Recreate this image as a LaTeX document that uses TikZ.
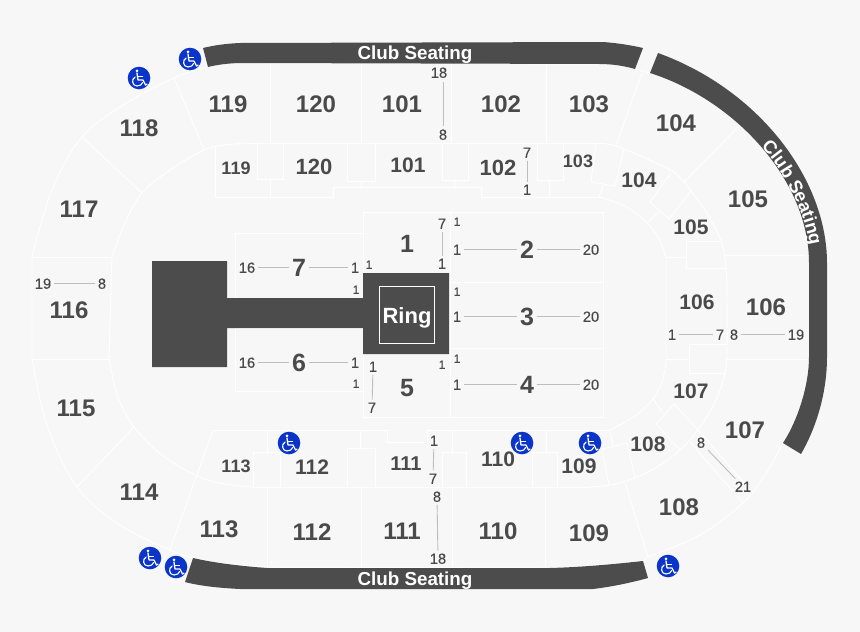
\documentclass[tikz,border=0pt]{standalone}
\usepackage{fontspec}
\setmainfont{Liberation Sans}
\newfontfamily\medfont[FakeBold=0.35]{Liberation Sans}
\usetikzlibrary{decorations.text}
\definecolor{bgc}{HTML}{F7F7F7}
\definecolor{ink}{HTML}{4A4A4A}
\definecolor{slab}{HTML}{4C4C4C}
\definecolor{conn}{HTML}{BDBDBD}
\definecolor{wcblue}{HTML}{0A35C8}
\tikzset{
  wl/.style={draw=white,line width=0.9pt,line join=miter},
  dark/.style={fill=slab,draw=none},
  lab/.style={text=ink,inner sep=2.8pt,yshift=-0.7pt,font=\fontsize{#1}{#1}\selectfont\bfseries},
  lab/.default=24,
  num/.style={text=ink,inner sep=2.8pt,yshift=-0.7pt,font=\fontsize{#1}{#1}\medfont},
  num/.default=14.7,
  clubtxt/.style={text=white,inner sep=0pt,font=\fontsize{18.8}{18.8}\selectfont\bfseries},
  lnk/.style={draw=conn,line width=0.9pt},
  wheel/.pic={
    \fill[wcblue] (0,0) circle (11.3);
    \fill[white] (-2,-7.2) circle (1.5);
    \draw[white,line width=1.3pt,line cap=round,line join=round] (-2,-5) -- (-1,2) -- (4,2) -- (6.5,7) -- (8,6.2);
    \draw[white,line width=1.1pt,line cap=round] (-1.6,-1.8) -- (3.5,-1.8);
    \draw[white,line width=1.1pt,line cap=round] (-3.8,-1) .. controls (-8,1) and (-7,8) .. (-2,8) .. controls (1,8) and (3,6.5) .. (3.6,4.5);
  }
}
\begin{document}
\begin{tikzpicture}[x=1pt,y=-1pt]
\useasboundingbox (0,0) rectangle (860,632);
\fill[bgc] (0,0) rectangle (860,632);
% outlines
\draw[wl] plot[smooth,tension=0.6] coordinates {(210,66)(174,78)(125,104)(82,137)(52,190)(32,257)} -- (32,359)
  plot[smooth,tension=0.6] coordinates {(32,359)(47,425)(77,487)(120,525)(170,550)(193,558)};
\draw[wl] plot[smooth,tension=0.6] coordinates {(250,143)(225,145)(204,150)(170,170)(142,193)(124,225)(112,257)} -- (109,359)
  plot[smooth,tension=0.6] coordinates {(109,359)(118,397)(134,427)(162,455)(197,476)(225,484)(253,487)};
\draw[wl] (250,143) -- (597,143);
\draw[wl] (253,487) -- (590,487);
\draw[wl] plot[smooth,tension=0.6] coordinates {(597,143)(616,146)(645,158)(672,171)(684,182)(691,191)(708,215)(721,241)(726,268)(727,300)(727,345)(725,373)(715,402)(698,430)(680,450)(660,465)(635,478)(610,485)(590,487)};
\draw[wl] plot[smooth,tension=0.6] coordinates {(783,443)(765,475)(743,503)(700,535)(648,557)};
\draw[wl] (243,63) -- (600,64);
\draw[wl] (193,558) .. controls (215,563) and (240,566) .. (267,567) -- (550,568) .. controls (585,567) and (615,564) .. (643,561) -- (648,557);
\draw[wl] (635,69) -- (650,73);
% upper dividers
\draw[wl] (174,78) -- (204,150);
\draw[wl] (270,63) -- (270,143);
\draw[wl] (361,63) -- (361,143);
\draw[wl] (451,63) -- (451,143);
\draw[wl] (546,63) -- (546,143);
\draw[wl] (642,73) -- (616,145);
\draw[wl] (738,127) -- (684,182);
\draw[wl] (726,255) -- (805,255);
\draw[wl] (727,359) -- (807,359);
\draw[wl] (690,442) -- (743,503);
\draw[wl] (698,430) -- (752,492);
\draw[wl] (625,483) -- (648,557);
\draw[wl] (213,430) -- (170,550);
\draw[wl] (82,137) -- (142,193);
\draw[wl] (32,257) -- (112,257);
\draw[wl] (32,359) -- (109,359);
\draw[wl] (134,427) -- (77,487);
\draw[wl] (267,487) -- (267,567);
\draw[wl] (361,487) -- (361,567);
\draw[wl] (452,487) -- (452,567);
\draw[wl] (545,487) -- (545,567);
% lower ring top
\draw[wl] (215,147) -- (215,197) -- (333,197) -- (333,187) -- (481,187) -- (481,197) -- (599,197);
\draw[wl] plot[smooth,tension=0.6] coordinates {(599,197)(625,206)(647,223)(659,239)(666,257)} -- (666,363);
\draw[wl] plot[smooth,tension=0.6] coordinates {(666,363)(662,382)(653,399)(635,416)(610,430)};
\draw[wl] (610,430) -- (427,430) -- (427,442) -- (387,442) -- (387,430) -- (213,430);
\draw[wl] (257,143) -- (257,179) -- (283,179) -- (283,143);
\draw[wl] (347,143) -- (347,181) -- (375,181) -- (375,143);
\draw[wl] (442,143) -- (442,180) -- (468,180) -- (468,143);
\draw[wl] (537,143) -- (537,180) -- (563,180) -- (563,143);
\draw[wl] (270,179) -- (270,197);
\draw[wl] (361,181) -- (361,187);
\draw[wl] (454,180) -- (454,187);
\draw[wl] (549,180) -- (549,197);
\draw[wl] (596,144) -- (591,182) -- (615,186) -- (624,149);
\draw[wl] (603,185) -- (599,197);
\draw[wl] (671,173) -- (650,202) -- (669,219) -- (691,191);
\draw[wl] (659,212) -- (647,223);
\draw[wl] (686,241) -- (686,268) -- (726,268);
\draw[wl] (686,241) -- (720,241);
\draw[wl] (666,257) -- (686,257);
\draw[wl] (727,344) -- (689,344) -- (689,373) -- (725,373);
\draw[wl] (666,359) -- (689,359);
\draw[wl] (698,430) -- (674,404) -- (656,424) -- (680,450);
\draw[wl] (653,399) -- (663,413);
\draw[wl] (635,478) -- (627,443) -- (602,449) -- (609,485);
\draw[wl] (610,430) -- (613,446);
\draw[wl] (253,487) -- (253,452) -- (280,452) -- (280,487);
\draw[wl] (347,487) -- (347,448) -- (375,448) -- (375,487);
\draw[wl] (442,487) -- (442,452) -- (466,452) -- (466,487);
\draw[wl] (532,487) -- (532,452) -- (557,452) -- (557,487);
\draw[wl] (267,430) -- (267,452);
\draw[wl] (360,430) -- (360,448);
\draw[wl] (452,430) -- (452,452);
\draw[wl] (546,430) -- (546,452);
% floor
\draw[wl] (363,298) -- (235,298) -- (235,233) -- (363,233);
\draw[wl] (363,273) -- (363,212) -- (603,212) -- (603,417) -- (363,417) -- (363,354);
\draw[wl] (450,212) -- (450,417);
\draw[wl] (450,282) -- (603,282);
\draw[wl] (450,348) -- (603,348);
\draw[wl] (363,328) -- (235,328) -- (235,391) -- (363,391);
% stage
\fill[slab] (152,261) -- (227,261) -- (227,298) -- (363,298) -- (363,273) -- (449,273) -- (449,354) -- (363,354) -- (363,328) -- (227,328) -- (227,367) -- (152,367) -- cycle;
\draw[wl] (379,286) rectangle (434,343);
% club seating bands
\fill[slab] (203,48) .. controls (215,45) and (228,43.5) .. (240,43) -- (603,42) .. controls (617,43) and (630,45) .. (643,48) -- (635,69) .. controls (625,66) and (612,64) .. (600,64) -- (243,63) .. controls (230,63) and (218,64.5) .. (208,67) -- cycle;
\fill[slab] (193,558) .. controls (215,563) and (240,566) .. (267,568) -- (550,568) .. controls (585,567) and (615,564) .. (643,561) -- (648,578) .. controls (630,583) and (610,587) .. (593,589) -- (240,589) .. controls (220,588) and (200,586) .. (185,582) -- cycle;
\fill[slab] (658,53) .. controls (760,90) and (827,180) .. (827,263) -- (827,357) .. controls (827,395) and (815,430) .. (801,454) -- (783,443) .. controls (798,420) and (809,385) .. (809,357) -- (809,263) .. controls (809,180) and (735,100) .. (650,73) -- cycle;
\node[clubtxt] (clubtop) at (415,55) {Club Seating};
\node[clubtxt] (clubbot) at (415,581) {Club Seating};
\path[postaction={decorate,decoration={text along path,raise=0pt,text={|\fontsize{18.3}{18.3}\selectfont\bfseries\color{white}|Club Seating}}}] (761,147) .. controls (779,165) and (803,205) .. (810,245) -- (814,285);
% ring and floor
\node[text=white,inner sep=0pt,font=\fontsize{22}{22}\selectfont\bfseries] (ring) at (407,318) {Ring};
\node[lab=25] (s1) at (407,243) {1};
\node[lab=25] (s5) at (407,387) {5};
\node[lab=25] (s2) at (527,249) {2};
\node[lab=25] (s3) at (527,316) {3};
\node[lab=25] (s4) at (527,384) {4};
\node[lab=25] (s7) at (299,267) {7};
\node[lab=25] (s6) at (299,362) {6};
\node[num] (a16) at (247,267) {16};
\node[num] (a1) at (355,267) {1};
\node[num=12] (a1b) at (369,264) {1};
\node[num=12] (a1c) at (356,289) {1};
\draw[lnk] (a16) -- (s7); \draw[lnk] (s7) -- (a1);
\node[num] (b16) at (247,362) {16};
\node[num] (b1) at (355,362) {1};
\node[num=12] (b1c) at (356,383) {1};
\draw[lnk] (b16) -- (s6); \draw[lnk] (s6) -- (b1);
\node[num] (c1) at (373,366) {1};
\node[num] (c7) at (372,407) {7};
\draw[lnk] (c1) -- (c7);
\node[num] (d7) at (442,223) {7};
\node[num] (d1) at (442,263) {1};
\draw[lnk] (d7) -- (d1);
\node[num=12] (e1) at (457,221) {1};
\node[num] (e2) at (457,249) {1};
\node[num] (e20) at (591,249) {20};
\draw[lnk] (e2) -- (s2); \draw[lnk] (s2) -- (e20);
\node[num=12] (f1) at (457,291) {1};
\node[num] (f2) at (457,316) {1};
\node[num] (f20) at (591,316) {20};
\draw[lnk] (f2) -- (s3); \draw[lnk] (s3) -- (f20);
\node[num=12] (g1) at (457,358) {1};
\node[num=12] (g0) at (442,364) {1};
\node[num] (g2) at (457,384) {1};
\node[num] (g20) at (591,384) {20};
\draw[lnk] (g2) -- (s4); \draw[lnk] (s4) -- (g20);
% upper sections
\node[lab] (u119) at (228,104) {119};
\node[lab] (u120) at (316,104) {120};
\node[lab] (u101) at (402,104) {101};
\node[lab] (u102) at (501,104) {102};
\node[lab] (u103) at (589,104) {103};
\node[lab] (u104) at (676,123) {104};
\node[lab] (u105) at (748,199) {105};
\node[lab] (u106) at (766,307) {106};
\node[lab] (u107) at (745,430) {107};
\node[lab] (u108) at (679,507) {108};
\node[lab] (u109) at (589,533) {109};
\node[lab] (u110) at (498,531) {110};
\node[lab] (u111) at (402,531) {111};
\node[lab] (u112) at (312,531) {112};
\node[lab] (u113) at (219,529) {113};
\node[lab] (u114) at (139,492) {114};
\node[lab] (u115) at (76,408) {115};
\node[lab] (u116) at (69,310) {116};
\node[lab] (u117) at (79,209) {117};
\node[lab] (u118) at (139,128) {118};
% lower sections
\node[lab=18] (l119) at (236,168) {119};
\node[lab=22] (l120) at (314,166) {120};
\node[lab=21] (l101) at (408,165) {101};
\node[lab=22] (l102) at (498,167) {102};
\node[lab=18] (l103) at (578,161) {103};
\node[lab=21] (l104) at (639,180) {104};
\node[lab=21] (l105) at (691,227) {105};
\node[lab=21] (l106) at (697,302) {106};
\node[lab=21] (l107) at (691,391) {107};
\node[lab=21] (l108) at (648,444) {108};
\node[lab=21] (l109) at (579,466) {109};
\node[lab=21] (l110) at (498,459) {110};
\node[lab=20] (l111) at (406,463) {111};
\node[lab=21] (l112) at (312,466) {112};
\node[lab=18] (l113) at (236,466) {113};
% row numbers
\node[num] (h18) at (439,72) {18};
\node[num] (h8) at (443,134) {8};
\coordinate (h18end) at (443,82);
\draw[lnk] (h18end) -- (h8);
\node[num] (i7) at (527,152) {7};
\node[num] (i1) at (527,189) {1};
\draw[lnk] (i7) -- (i1);
\node[num] (j19) at (43,283) {19};
\node[num] (j8) at (102,283) {8};
\draw[lnk] (j19) -- (j8);
\node[num] (k1) at (672,334) {1};
\node[num] (k7) at (720,334) {7};
\draw[lnk] (k1) -- (k7);
\node[num] (m8) at (734,334) {8};
\node[num] (m19) at (796,334) {19};
\draw[lnk] (m8) -- (m19);
\node[num] (n8) at (701,442) {8};
\node[num] (n21) at (743,486) {21};
\draw[lnk] (n8) -- (n21);
\node[num] (o1) at (434,440) {1};
\node[num] (o7) at (433,478) {7};
\draw[lnk] (o1) -- (o7);
\node[num] (p8) at (437,496) {8};
\node[num] (p18) at (438,558) {18};
\draw[lnk] (p8) -- (p18);
% wheelchair
\pic at (190,59) {wheel};
\pic at (139,78) {wheel};
\pic at (289,443) {wheel};
\pic at (522,443) {wheel};
\pic at (590,443) {wheel};
\pic at (150,558) {wheel};
\pic at (176,567) {wheel};
\pic at (668,566) {wheel};
\end{tikzpicture}
\end{document}
